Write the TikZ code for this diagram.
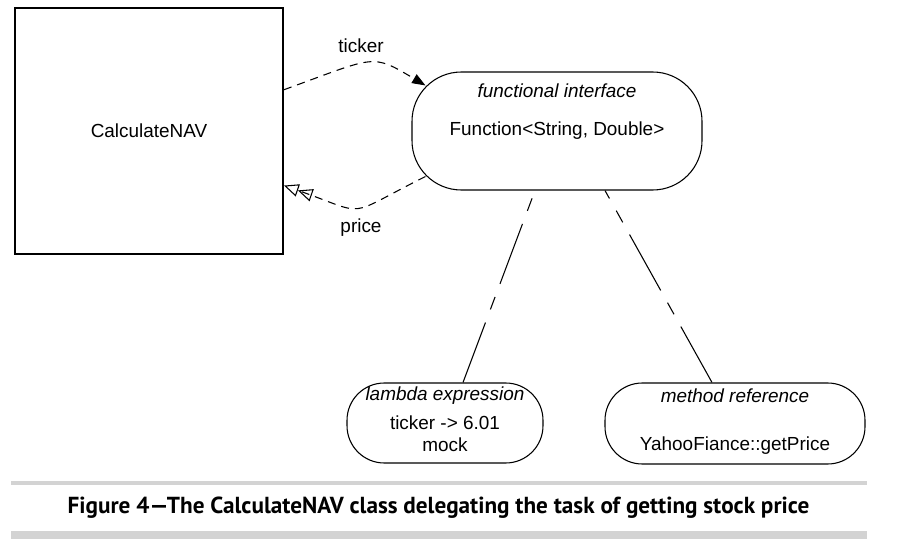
\documentclass[tikz,border=0pt]{standalone}
\usepackage{fontspec}
\setmainfont{Liberation Sans}
\newfontfamily\captionfont{PT Sans}
\usepackage{xcolor}
\usetikzlibrary{arrows.meta, positioning}
\definecolor{bargray}{RGB}{211,211,211}

\begin{document}
\begin{tikzpicture}[x=0.75pt, y=-0.75pt,
    every node/.style={font=\fontsize{14.2}{17}\selectfont, inner sep=0pt},
    classbox/.style={draw, line width=1.5pt, minimum width=201pt, minimum height=184.5pt},
    pill/.style={draw, line width=0.8pt, rounded corners=#1},
    flow/.style={line width=0.8pt, dash pattern=on 6pt off 4.5pt},
    link/.style={line width=0.8pt, dash pattern=on 48pt off 10.5pt on 10pt off 10.5pt}]
    \useasboundingbox (0,0) rectangle (917,549);

    % Client class
    \node[classbox] (calc) at (149,131) {CalculateNAV};

    % Functional interface
    \node[pill=37pt, minimum width=217.5pt, minimum height=88.5pt] (func) at (557,131) {};
    \node (funcTitle) at (557,91) {\itshape functional interface};
    \node (funcType) at (557,131) {Function<String, Double>};

    % Implementations
    \node[pill=28pt, minimum width=147pt, minimum height=60pt] (lambda) at (445,423) {};
    \node (lambdaTitle) at (445,396) {\itshape lambda expression};
    \node (lambdaCode) at (445,423) {ticker -> 6.01};
    \node (lambdaNote) at (445,445) {mock};

    \node[pill=28pt, minimum width=195pt, minimum height=60.75pt] (method) at (735,423.5) {};
    \node (methodTitle) at (735,396) {\itshape method reference};
    \node (methodRef) at (735,446) {YahooFiance::getPrice};

    % Calls
    \node (tickerLbl) at (361,46) {ticker};
    \node (priceLbl) at (361,228) {price};
    \draw[flow, -{Triangle[length=10pt,width=7.5pt]}] (calc.17)
        .. controls (377,56) and (371,53) .. ([shift={(14,14)}]func.north west);
    \draw[flow, -{Triangle[open,length=11pt,width=9.5pt] Triangle[open,length=11pt,width=9.5pt]}]
        ([shift={(14,-14)}]func.south west)
        .. controls (342,218) and (371,216) .. (calc.-22);

    \draw[link] ([shift={(18,0)}]lambda.north) -- ([shift={(-22,0)}]func.south);
    \draw[link] ([shift={(-23,0)}]method.north) -- ([shift={(48,0)}]func.south);

    % Caption
    \fill[bargray] (11,481) rectangle (867,485);
    \node[font=\captionfont\bfseries\fontsize{17.4}{20}\selectfont, anchor=base] (caption) at (438.5,513)
        {Figure 4—The CalculateNAV class delegating the task of getting stock price};
    \fill[bargray] (11,531) rectangle (867,539);
\end{tikzpicture}
\end{document}
